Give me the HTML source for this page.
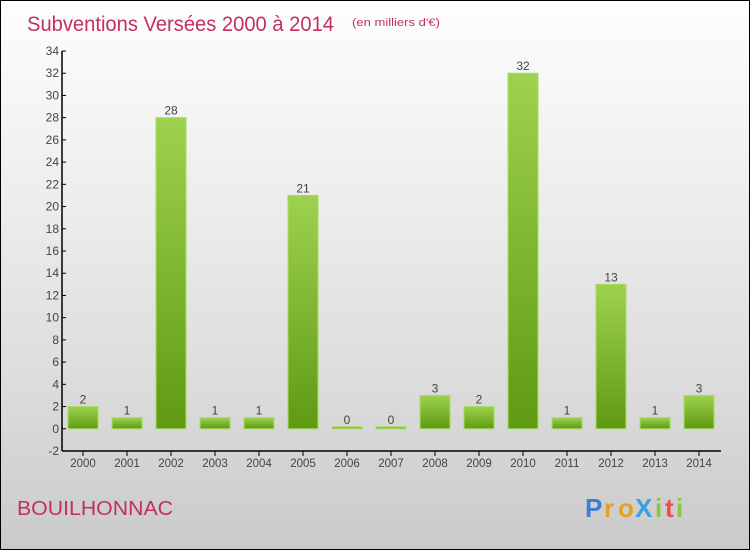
<!DOCTYPE html>
<html><head><meta charset="utf-8"><style>
body{margin:0;}
#wrap{position:relative;width:748px;height:548px;border:1px solid #000;background:linear-gradient(#fefefe,#f0f0f0 30%,#dcdcdc 70%,#cacaca);font-family:"Liberation Sans",sans-serif;overflow:hidden;}
svg{position:absolute;left:0;top:0;}
</style></head><body>
<div id="wrap">
<svg width="750" height="550" id="svg">
<defs><linearGradient id="g" x1="0" y1="0" x2="0" y2="1"><stop offset="0" stop-color="#9ed24e"/><stop offset="1" stop-color="#5f9a14"/></linearGradient></defs>
<text x="26" y="30" font-size="21" fill="#c2305f" textLength="307" lengthAdjust="spacingAndGlyphs">Subventions Versées 2000 à 2014</text>
<text x="351" y="25" font-size="11" fill="#c2305f" textLength="88" lengthAdjust="spacingAndGlyphs">(en milliers d'€)</text>
<text x="16" y="514" font-size="20" fill="#c2305f" textLength="156" lengthAdjust="spacingAndGlyphs">BOUILHONNAC</text>
<g font-size="26" font-weight="bold">
<text x="584" y="516" fill="#3a7fd0">P</text><text x="603" y="516" fill="#e8a020">r</text><text x="617" y="516" fill="#e8a020">o</text><text x="634" y="516" fill="#3aa0e0">X</text><text x="654" y="516" fill="#8cc63f">i</text><text x="664" y="516" fill="#e85050">t</text><text x="675" y="516" fill="#8cc63f">i</text>
</g>
<g id="axes"></g><g id="bars"></g>
</svg>
</div>
<script>
const categories=["2000","2001","2002","2003","2004","2005","2006","2007","2008","2009","2010","2011","2012","2013","2014"];
const values=[2,1,28,1,1,21,0,0,3,2,32,1,13,1,3];
const yTicks=[-2,0,2,4,6,8,10,12,14,16,18,20,22,24,26,28,30,32,34];
const NS="http://www.w3.org/2000/svg";
const yMin=-2,yMax=34,plotTop=50,plotBot=450,plotLeft=61,plotRight=720,step=44,x0=82,bw=30;
const yS=v=>plotBot-(v-yMin)/(yMax-yMin)*(plotBot-plotTop);
const xS=i=>x0+i*step;
function mk(t,a,p){const e=document.createElementNS(NS,t);for(const k in a)e.setAttribute(k,a[k]);p.appendChild(e);return e;}
const ax=document.getElementById('axes'),bs=document.getElementById('bars');
const ya=mk('line',{x1:plotLeft,y1:plotTop,x2:plotLeft,y2:plotBot,stroke:'#000','stroke-width':1.5},ax);


const xa=mk('line',{x1:plotLeft,y1:plotBot,x2:plotRight,y2:plotBot,stroke:'#000','stroke-width':1.5},ax);


yTicks.forEach(v=>{
 const l=mk('line',{x1:plotLeft,y1:yS(v),x2:plotLeft+4,y2:yS(v),stroke:'#000'},ax);
 
 
 const t=mk('text',{x:plotLeft-3,y:yS(v)+4,'font-size':12,'text-anchor':'end',fill:'#444'},ax);
 t.textContent=v;
 
 
});
categories.forEach((c,i)=>{
 const l=mk('line',{x1:xS(i),y1:plotBot,x2:xS(i),y2:plotBot+5,stroke:'#000'},ax);
 
 
 const t=mk('text',{x:xS(i),y:plotBot+16,'font-size':11.5,'text-anchor':'middle',fill:'#444'},ax);
 t.textContent=c;
 
 
 const v=values[i];
 const yt=Math.min(yS(v),yS(0)-2);
 const r=mk('rect',{x:xS(i)-bw/2,y:yt,width:bw,height:yS(0)-yt,fill:'url(#g)',stroke:'#a8dc60','stroke-width':1},bs);
 
 
 const vt=mk('text',{x:xS(i),y:yt-3,'font-size':12,'text-anchor':'middle',fill:'#444'},bs);
 vt.textContent=v;
 
 
});
</script>
</body></html>
